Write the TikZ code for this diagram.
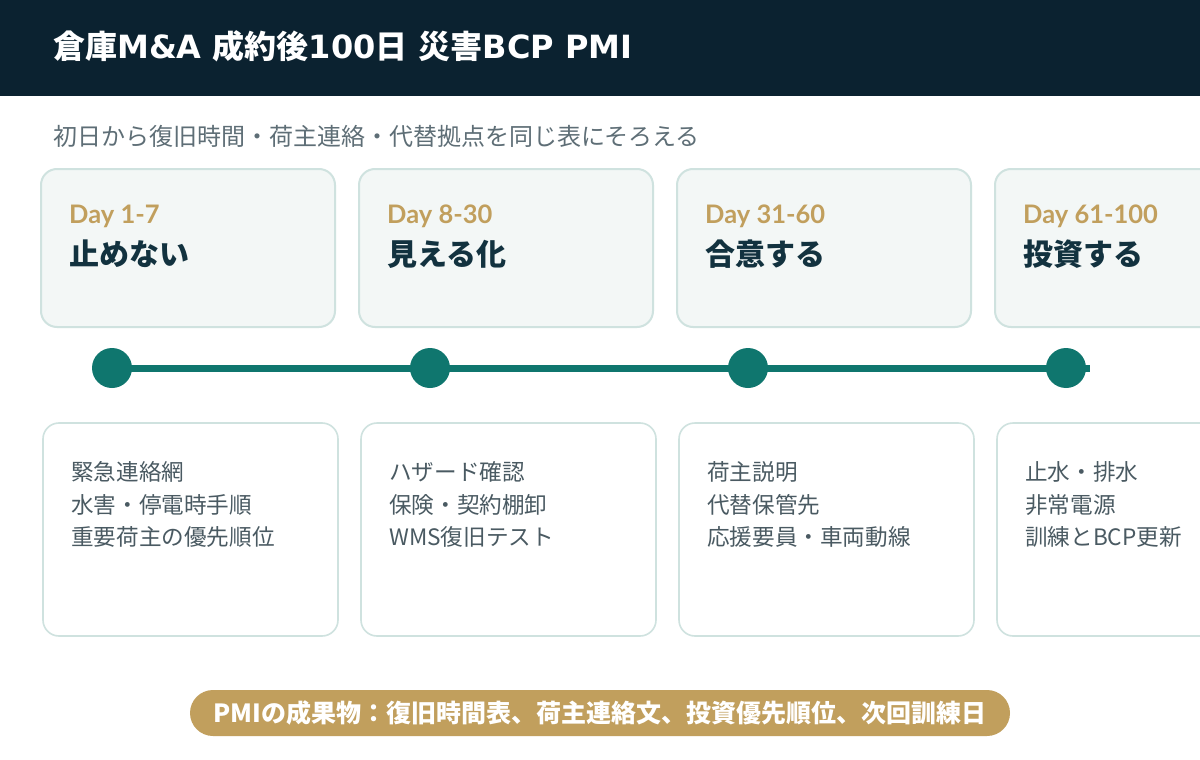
\documentclass[tikz,border=0pt]{standalone}
\usepackage{fontspec}
\setmainfont{Noto Sans CJK JP}
\newfontfamily\latofont{Lato}
\newfontfamily\dvfont{DejaVu Sans}
\definecolor{navy}{HTML}{0B2230}
\definecolor{subgray}{HTML}{5E6E76}
\definecolor{bodygray}{HTML}{4A5A62}
\definecolor{gold}{HTML}{C19F5D}
\definecolor{titlenavy}{HTML}{12323F}
\definecolor{teal}{HTML}{0F766E}
\definecolor{cardfill}{HTML}{F3F7F6}
\definecolor{cardline}{HTML}{CFE2DF}
\newcommand{\lt}[1]{{\dvfont\bfseries #1}}
\begin{document}
\begin{tikzpicture}[x=1pt,y=-1pt,
  topcard/.style={draw=cardline,fill=cardfill,line width=2pt,rounded corners=16pt,minimum width=294pt,minimum height=158pt,inner sep=0pt},
  botcard/.style={draw=cardline,fill=white,line width=1.6pt,rounded corners=16pt,minimum width=295pt,minimum height=213pt,inner sep=0pt},
  daylabel/.style={anchor=base west,inner sep=0pt,text=gold,font=\latofont\bfseries\fontsize{25.5}{28}\selectfont},
  phasetitle/.style={anchor=base west,inner sep=0pt,text=titlenavy,font=\bfseries\fontsize{30}{34}\selectfont},
  bodytext/.style={anchor=base west,inner sep=0pt,text=bodygray,font=\fontsize{22.6}{26}\selectfont},
  dot/.style={circle,fill=teal,minimum size=40pt,inner sep=0pt}]
\useasboundingbox (0,0) rectangle (1200,760);
\clip (0,0) rectangle (1200,760);
\fill[white] (0,0) rectangle (1200,760);
\fill[navy] (0,0) rectangle (1200,96);
\node[anchor=base west,inner sep=0pt,text=white,font=\bfseries\fontsize{32}{36}\selectfont] (title) at (53,59) {倉庫\lt{M\&A }成約後\lt{100}日\lt{ }災害\lt{BCP PMI}};
\node[anchor=base west,inner sep=0pt,text=subgray,font=\fontsize{24}{28}\selectfont] (sub) at (53,145) {初日から復旧時間・荷主連絡・代替拠点を同じ表にそろえる};
% top cards
\node[topcard] (t1) at (188,248) {};
\node[topcard] (t2) at (506,248) {};
\node[topcard] (t3) at (824,248) {};
\node[topcard] (t4) at (1142,248) {};
\node[daylabel] (d1) at (69,223) {Day 1-7};
\node[daylabel] (d2) at (387,223) {Day 8-30};
\node[daylabel] (d3) at (705,223) {Day 31-60};
\node[daylabel] (d4) at (1023,223) {Day 61-100};
\node[phasetitle] (p1) at (69,265) {止めない};
\node[phasetitle] (p2) at (387,265) {見える化};
\node[phasetitle] (p3) at (705,265) {合意する};
\node[phasetitle] (p4) at (1023,265) {投資する};
% timeline
\coordinate (c1) at (112,368);
\coordinate (tend) at (1090,368);
\draw[teal,line width=7pt] (c1) -- (tend);
\node[dot] (o1) at (112,368) {};
\node[dot] (o2) at (430,368) {};
\node[dot] (o3) at (748,368) {};
\node[dot] (o4) at (1066,368) {};
% bottom cards
\node[botcard] (b1) at (190.5,529.5) {};
\node[botcard] (b2) at (508.5,529.5) {};
\node[botcard] (b3) at (826.5,529.5) {};
\node[botcard] (b4) at (1144.5,529.5) {};
\node[bodytext] (l11) at (71,480) {緊急連絡網};
\node[bodytext] (l12) at (71,513) {水害・停電時手順};
\node[bodytext] (l13) at (71,545) {重要荷主の優先順位};
\node[bodytext] (l21) at (389,480) {ハザード確認};
\node[bodytext] (l22) at (389,513) {保険・契約棚卸};
\node[bodytext] (l23) at (389,545) {WMS復旧テスト};
\node[bodytext] (l31) at (707,480) {荷主説明};
\node[bodytext] (l32) at (707,513) {代替保管先};
\node[bodytext] (l33) at (707,545) {応援要員・車両動線};
\node[bodytext] (l41) at (1025,480) {止水・排水};
\node[bodytext] (l42) at (1025,513) {非常電源};
\node[bodytext] (l43) at (1025,545) {訓練とBCP更新};
% banner
\node[fill=gold,rounded corners=23pt,minimum width=820pt,minimum height=46pt,inner sep=0pt] (banner) at (600,713) {};
\node[anchor=base,inner sep=0pt,text=white,font=\bfseries\fontsize{25}{29}\selectfont] (btext) at (600,722.5) {PMIの成果物：復旧時間表、荷主連絡文、投資優先順位、次回訓練日};
\end{tikzpicture}
\end{document}
